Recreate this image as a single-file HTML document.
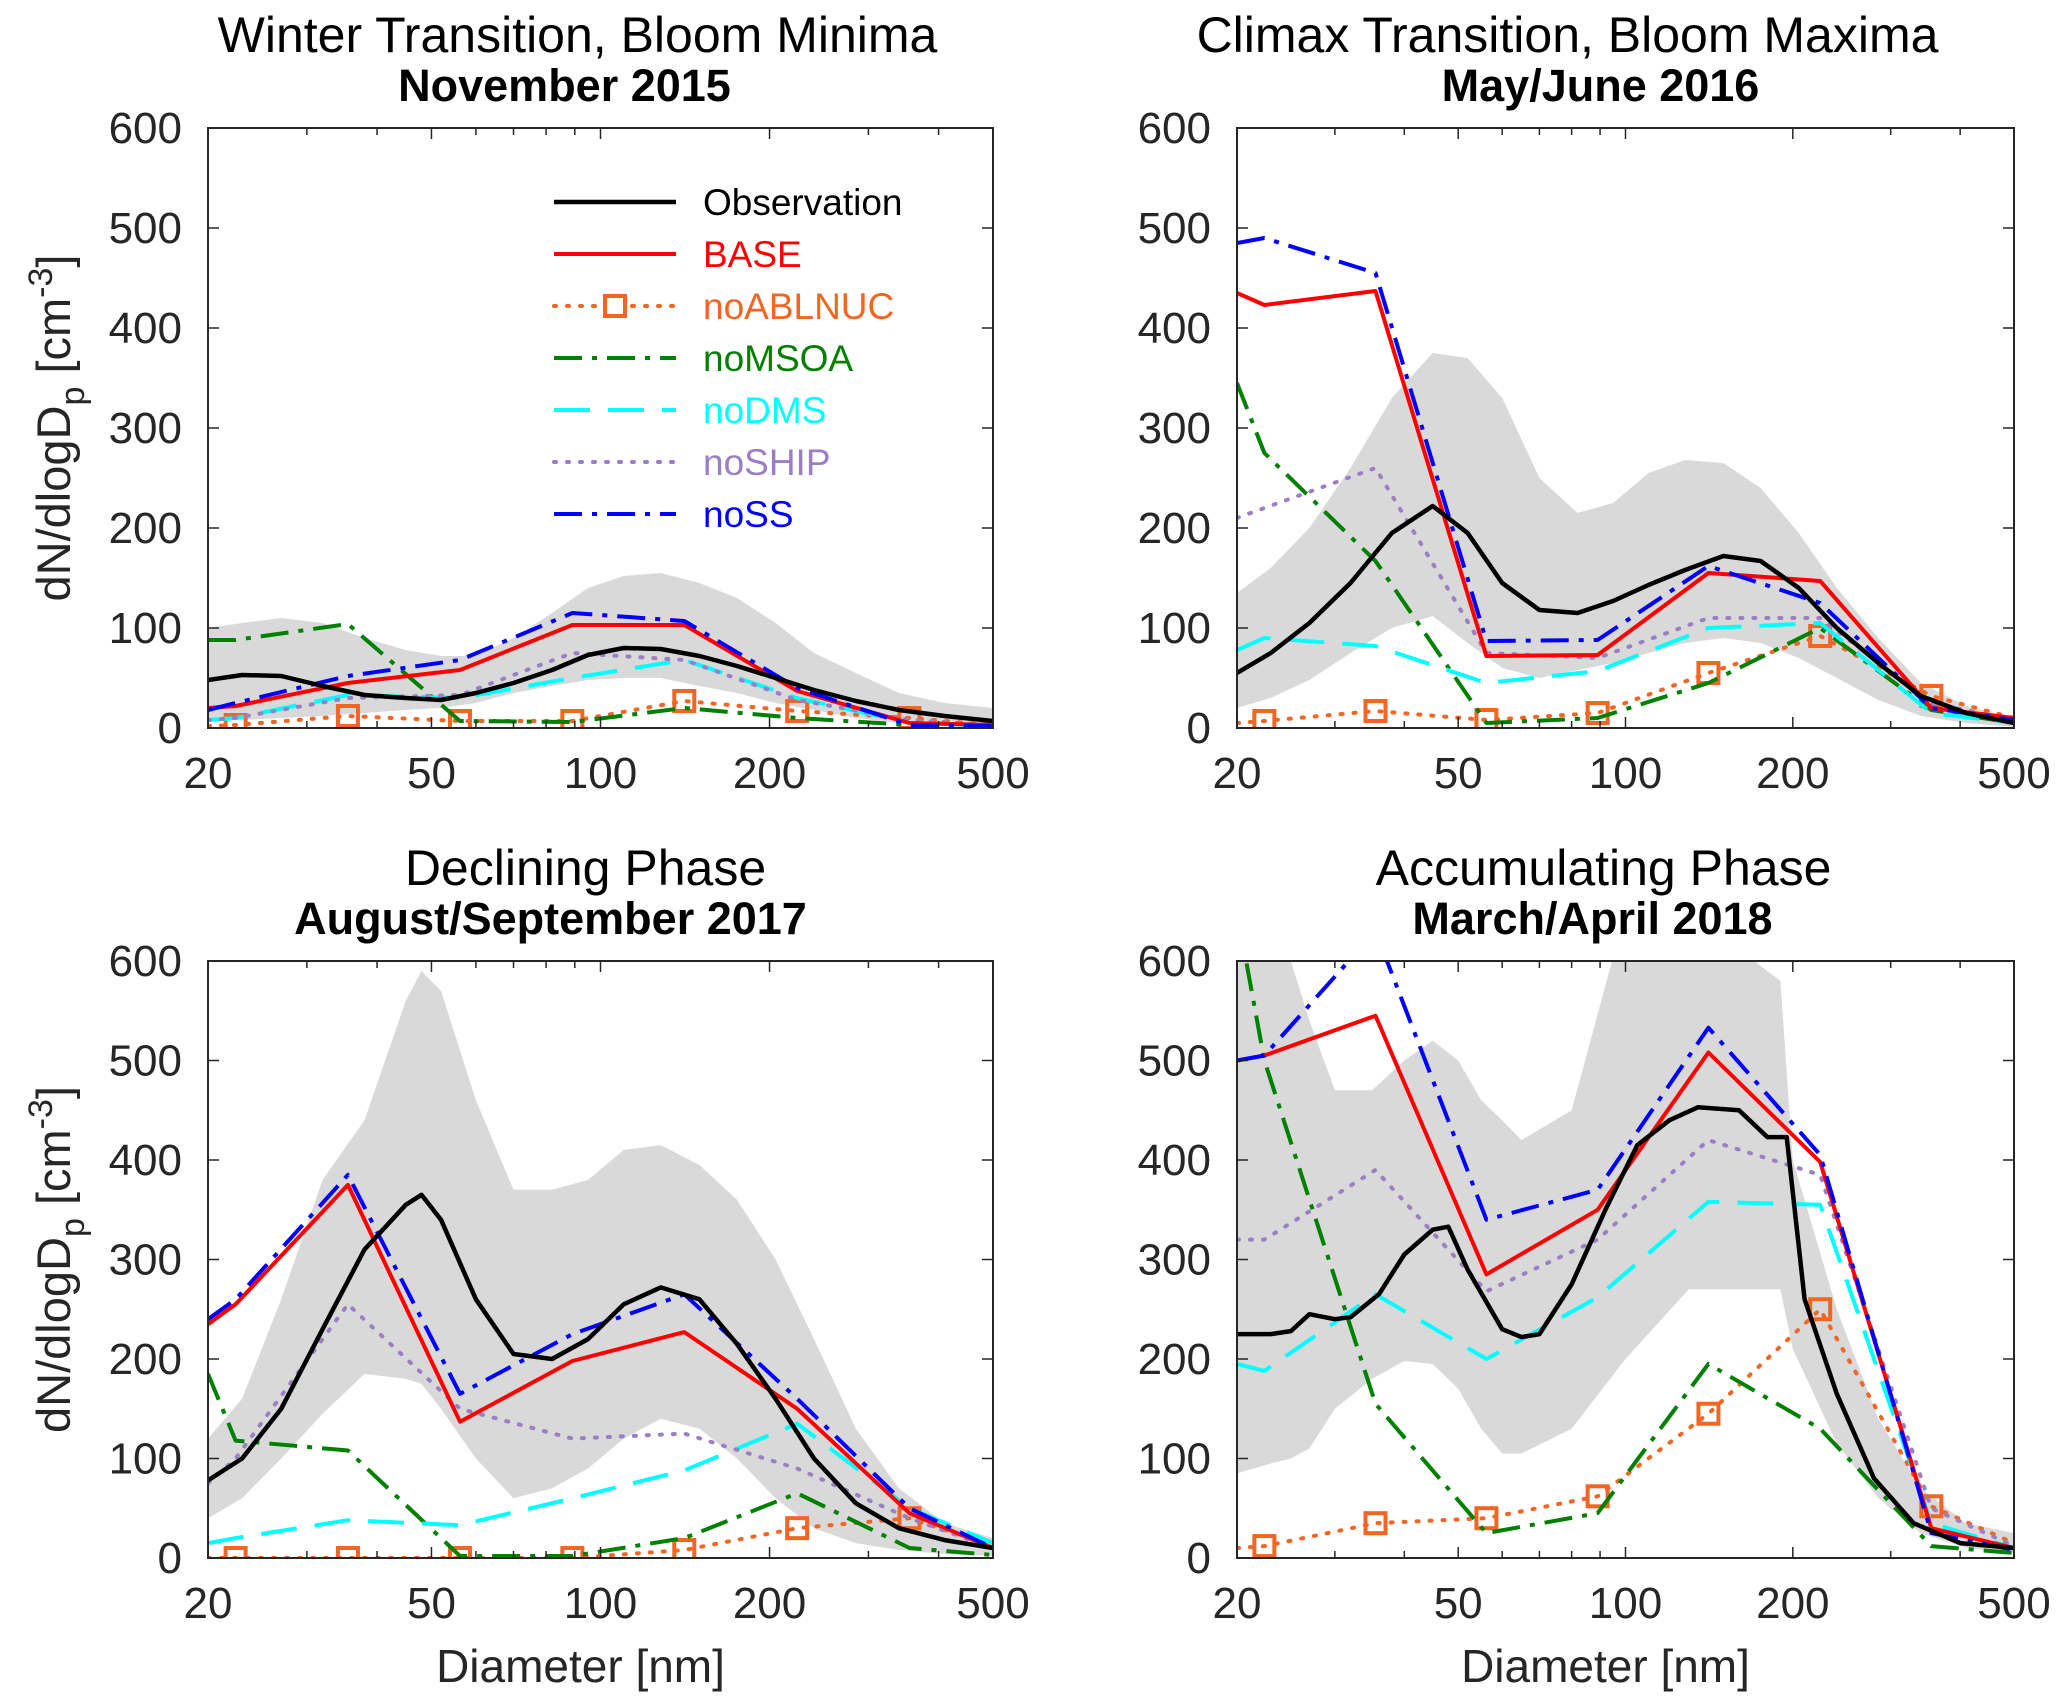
<!DOCTYPE html>
<html><head><meta charset="utf-8"><style>
html,body{margin:0;padding:0;background:#fff;}
svg{display:block;font-family:"Liberation Sans",sans-serif;}
</style></head><body>
<svg id="fig" width="2067" height="1706" viewBox="0 0 2067 1706" xmlns="http://www.w3.org/2000/svg"></svg>
<script>
// ---- shared data ----
const modelX = [20, 22.4, 35.5, 56.2, 89.1, 141, 224, 355, 500];
const xTicks = [20, 50, 100, 200, 500];
const xMinor = [30, 40, 60, 70, 80, 90, 300, 400];
const yTicks = [0, 100, 200, 300, 400, 500, 600];
const seriesNames = ["BASE","noABLNUC","noMSOA","noDMS","noSHIP","noSS"];

// Panel 1: November 2015
const p1ObsX = [20,23,27,32,38,45,52,60,70,82,95,110,128,150,175,205,240,285,340,410,500];
const p1Obs  = [48,53,52,42,33,30,28,35,45,58,73,80,79,72,62,50,38,27,18,12,7];
const p1BandX = [20,23,27,32,38,45,52,60,70,82,95,110,128,150,175,205,240,285,340,410,500];
const p1Upper = [100,105,110,105,90,78,72,72,90,115,140,152,155,145,130,105,75,55,35,25,20];
const p1Lower = [10,8,10,12,15,18,20,25,35,42,48,50,50,42,35,25,18,10,5,2,1];
const p1BASE = [20,22,45,58,103,103,37,5,3];
const p1noABLNUC = [2,3,12,7,7,27,17,10,3];
const p1noMSOA = [88,88,104,7,6,20,10,3,2];
const p1noDMS = [8,10,33,30,50,68,30,5,2];
const p1noSHIP = [8,10,30,33,75,68,28,8,3];
const p1noSS = [18,25,52,68,115,107,40,3,2];

// Panel 2: May/June 2016
const p2ObsX = [20,23,27,32,38,45,52,60,70,82,95,110,128,150,175,205,240,285,340,410,500];
const p2Obs  = [55,75,105,145,195,222,195,145,118,115,127,143,158,172,167,140,100,65,32,15,5];
const p2BandX = [20,23,27,32,38,45,52,60,70,82,95,110,128,150,175,205,240,285,340,410,500];
const p2Upper = [135,160,200,260,330,375,370,330,250,215,225,255,268,265,240,195,140,90,45,22,10];
const p2Lower = [20,30,48,75,100,112,85,60,50,58,65,75,85,90,85,70,50,28,12,5,1];
const p2BASE = [435,423,437,72,73,155,147,20,10];
const p2noABLNUC = [5,7,17,8,15,55,92,32,10];
const p2noMSOA = [345,275,167,5,10,45,100,18,5];
const p2noDMS = [78,90,82,45,57,100,105,15,5];
const p2noSHIP = [210,220,260,75,70,110,110,25,8];
const p2noSS = [485,490,455,87,88,162,125,20,8];

// Panel 3: August/September 2017
const p3ObsX = [20,23,27,32,38,45,48,52,60,70,82,95,110,128,150,175,205,240,285,340,410,500];
const p3Obs  = [78,100,150,230,310,355,365,340,260,205,200,220,255,272,260,215,160,100,55,30,18,10];
const p3BandX = [20,23,27,32,38,45,48,52,60,70,82,95,110,128,150,175,205,240,285,340,410,500];
const p3Upper = [120,160,260,380,440,560,590,570,460,370,370,380,410,415,395,360,300,220,130,70,35,20];
const p3Lower = [40,60,100,145,185,180,175,150,100,60,70,90,120,140,130,100,60,30,15,8,4,2];
const p3BASE = [235,255,375,137,198,227,150,45,10];
const p3noABLNUC = [0,0,0,0,0,8,30,40,12];
const p3noMSOA = [185,118,108,2,2,20,65,10,3];
const p3noDMS = [15,20,38,33,60,88,135,50,15];
const p3noSHIP = [75,100,255,150,120,125,90,40,10];
const p3noSS = [240,260,385,165,225,265,160,50,10];

// Panel 4: March/April 2018
const p4ObsX = [20,23,25,27,30,32,36,40,45,48,52,60,65,70,80,92,105,120,135,160,180,195,210,240,280,330,400,500];
const p4Obs  = [225,225,228,245,240,242,265,305,330,333,290,230,222,225,275,350,415,440,453,450,423,423,260,165,80,35,15,10];
const p4BandX = [20,23,25,27,30,35,40,45,50,55,60,65,80,100,130,190,200,240,285,340,410,500];
const p4Upper = [650,650,600,540,470,470,500,520,500,460,440,420,450,650,650,580,400,250,140,70,35,25];
const p4Lower = [85,95,100,110,150,180,198,195,170,130,105,105,130,200,270,270,210,115,60,25,10,5];
const p4BASE = [500,505,545,285,350,508,398,30,10];
const p4noABLNUC = [10,12,35,40,62,145,250,52,15];
const p4noMSOA = [650,500,155,25,45,195,130,12,5];
const p4noDMS = [195,188,265,200,262,358,355,35,10];
const p4noSHIP = [320,320,390,268,320,420,385,50,12];
const p4noSS = [500,505,630,340,370,533,405,25,8];

const panels = [
  {id:"p1", title:"Winter Transition, Bloom Minima", sub:"November 2015", tdx:-23, sdx:-36, x0:208,x1:993,y0:128,y1:728, ylab:true, xlab:false, legend:true,
   obsX:p1ObsX, obs:p1Obs, bandX:p1BandX, up:p1Upper, lo:p1Lower, s:[p1BASE,p1noABLNUC,p1noMSOA,p1noDMS,p1noSHIP,p1noSS]},
  {id:"p2", title:"Climax Transition, Bloom Maxima", sub:"May/June 2016", tdx:-58, sdx:-25, x0:1237,x1:2014,y0:128,y1:728, ylab:false, xlab:false,
   obsX:p2ObsX, obs:p2Obs, bandX:p2BandX, up:p2Upper, lo:p2Lower, s:[p2BASE,p2noABLNUC,p2noMSOA,p2noDMS,p2noSHIP,p2noSS]},
  {id:"p3", title:"Declining Phase", sub:"August/September 2017", tdx:-15, sdx:-50, x0:208,x1:993,y0:961,y1:1558, ylab:true, xlab:true,
   obsX:p3ObsX, obs:p3Obs, bandX:p3BandX, up:p3Upper, lo:p3Lower, s:[p3BASE,p3noABLNUC,p3noMSOA,p3noDMS,p3noSHIP,p3noSS]},
  {id:"p4", title:"Accumulating Phase", sub:"March/April 2018", tdx:-22, sdx:-33, x0:1237,x1:2014,y0:961,y1:1558, ylab:false, xlab:true,
   obsX:p4ObsX, obs:p4Obs, bandX:p4BandX, up:p4Upper, lo:p4Lower, s:[p4BASE,p4noABLNUC,p4noMSOA,p4noDMS,p4noSHIP,p4noSS]}
];

const styles = {
  Observation:{c:"#000000", d:"", w:4.5},
  BASE:{c:"#ff0000", d:"", w:4},
  noABLNUC:{c:"#f26522", d:"2 11", w:4},
  noMSOA:{c:"#008000", d:"28 10 5 10", w:4},
  noDMS:{c:"#00ffff", d:"36 18", w:4},
  noSHIP:{c:"#9b7fc4", d:"2 11", w:4},
  noSS:{c:"#0000ff", d:"28 10 5 10", w:4}
};

const NS = "http://www.w3.org/2000/svg";
const fig = document.getElementById("fig");
function mk(tag, attrs, parent){
  const e = document.createElementNS(NS, tag);
  for (const k in attrs) e.setAttribute(k, attrs[k]);
  (parent||fig).appendChild(e);
  return e;
}

panels.forEach(p => {
  const g = mk("g", {});
  
  
  const lx0 = Math.log10(20), lx1 = Math.log10(500);
  const X = v => p.x0 + (Math.log10(v) - lx0) / (lx1 - lx0) * (p.x1 - p.x0);
  const Y = v => p.y1 - v / 600 * (p.y1 - p.y0);
  const cx = (p.x0 + p.x1) / 2;

  const defs = mk("defs", {}, g);
  const cp = mk("clipPath", {id:"clip-"+p.id}, defs);
  mk("rect", {x:p.x0, y:p.y0, width:p.x1-p.x0, height:p.y1-p.y0}, cp);

  const pg = mk("g", {"clip-path":"url(#clip-"+p.id+")"}, g);
  let d = "";
  p.bandX.forEach((x,i)=>{ d += (i?"L":"M") + X(x).toFixed(1) + "," + Y(p.up[i]).toFixed(1); });
  for (let i=p.bandX.length-1;i>=0;i--) d += "L" + X(p.bandX[i]).toFixed(1) + "," + Y(p.lo[i]).toFixed(1);
  const band = mk("path", {d:d+"Z", fill:"#d9d9d9", stroke:"none"}, pg);
  
  

  const order = [1,2,3,4,0,5];
  order.forEach(si => {
    const name = seriesNames[si]; const st = styles[name]; const vals = p.s[si];
    const pts = modelX.map((x,i)=>X(x).toFixed(1)+","+Y(vals[i]).toFixed(1)).join(" ");
    const pl = mk("polyline", {points:pts, fill:"none", stroke:st.c, "stroke-width":st.w, "stroke-dasharray":st.d, "stroke-linecap":(name==="noSHIP"||name==="noABLNUC")?"round":"butt", "stroke-linejoin":"round"}, pg);
    
    
    if (name === "noABLNUC") {
      for (let i=1;i<modelX.length-1;i++){
        const m = mk("rect", {x:X(modelX[i])-10, y:Y(vals[i])-10, width:20, height:20, fill:"none", stroke:st.c, "stroke-width":4}, pg);
        
        
      }
    }
  });
  const opts = p.obsX.map((x,i)=>X(x).toFixed(1)+","+Y(p.obs[i]).toFixed(1)).join(" ");
  const ol = mk("polyline", {points:opts, fill:"none", stroke:"#000", "stroke-width":4.5, "stroke-linejoin":"round"}, pg);
  
  

  const fr = mk("rect", {x:p.x0, y:p.y0, width:p.x1-p.x0, height:p.y1-p.y0, fill:"none", stroke:"#262626", "stroke-width":2}, g);
  
  

  xTicks.concat(xMinor).forEach(v => {
    const L = xTicks.includes(v) ? 11 : 7;
    mk("line", {x1:X(v), x2:X(v), y1:p.y1, y2:p.y1-L, stroke:"#262626","stroke-width":1.5}, g);
    mk("line", {x1:X(v), x2:X(v), y1:p.y0, y2:p.y0+L, stroke:"#262626","stroke-width":1.5}, g);
  });
  xTicks.forEach(v => {
    const t = mk("text", {x:X(v), y:p.y1+60, "text-anchor":"middle", "font-size":44, fill:"#262626"}, g);
    t.textContent = v;
    
    
  });
  yTicks.forEach(v => {
    mk("line", {x1:p.x0, x2:p.x0+11, y1:Y(v), y2:Y(v), stroke:"#262626","stroke-width":1.5}, g);
    mk("line", {x1:p.x1, x2:p.x1-11, y1:Y(v), y2:Y(v), stroke:"#262626","stroke-width":1.5}, g);
    const t = mk("text", {x:p.x0-26, y:Y(v)+15, "text-anchor":"end", "font-size":44, fill:"#262626"}, g);
    t.textContent = v;
    
    
  });

  const t1 = mk("text", {x:cx+p.tdx, y:p.y0-76, "text-anchor":"middle", "font-size":50, fill:"#000"}, g);
  t1.textContent = p.title;
  
  
  const t2 = mk("text", {x:cx+p.sdx, y:p.y0-27, "text-anchor":"middle", "font-size":45, "font-weight":"bold", fill:"#000"}, g);
  t2.textContent = p.sub;
  
  

  if (p.ylab) {
    const yc = (p.y0+p.y1)/2;
    const yl = mk("text", {x:0, y:0, transform:"translate(70,"+yc+") rotate(-90)", "text-anchor":"middle", "font-size":47, fill:"#262626"}, g);
    
    
    yl.innerHTML = 'dN/dlogD<tspan dy="14" font-size="34">p</tspan><tspan dy="-14"> [cm</tspan><tspan dy="-18" font-size="34">-3</tspan><tspan dy="18">]</tspan>';
  }
  if (p.xlab) {
    const xl = mk("text", {x:cx-20, y:p.y1+124, "text-anchor":"middle", "font-size":46, fill:"#262626"}, g);
    xl.textContent = "Diameter [nm]";
    
    
  }
  if (p.legend) {
    const lg = mk("g", {}, g);
    
    
    const names = ["Observation"].concat(seriesNames);
    names.forEach((n,i) => {
      const yy = 202 + i*52;
      const st = styles[n];
      mk("line", {x1:554, x2:676, y1:yy, y2:yy, stroke:st.c, "stroke-width":st.w, "stroke-dasharray":st.d, "stroke-linecap":(n==="noSHIP"||n==="noABLNUC")?"round":"butt"}, lg);
      if (n==="noABLNUC") mk("rect", {x:605, y:yy-10, width:20, height:20, fill:"#fff", stroke:st.c, "stroke-width":4}, lg);
      const t = mk("text", {x:703, y:yy+13, "font-size":37, fill: n==="Observation" ? "#000" : st.c}, lg);
      t.textContent = n;
      
      
    });
  }
});
</script>
</body></html>
